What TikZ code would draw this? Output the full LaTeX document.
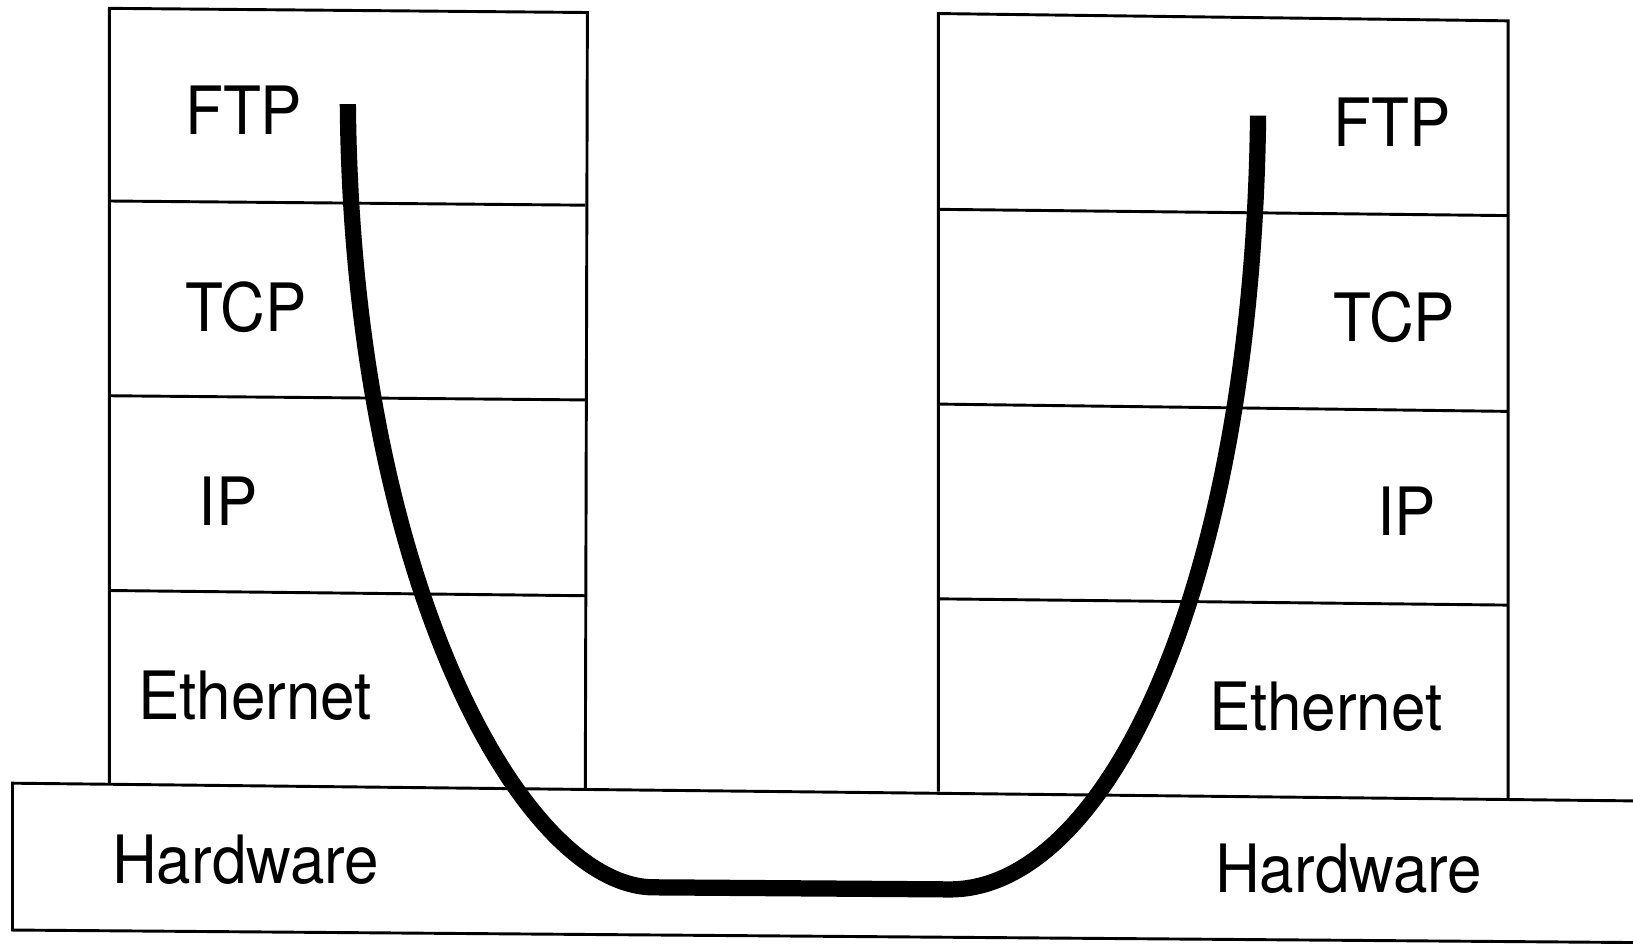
\documentclass[tikz,border=0pt]{standalone}
\usepackage{fontspec}
\setmainfont[FakeStretch=0.93]{TeX Gyre Heros}
\begin{document}
\begin{tikzpicture}[x=0.5pt,y=-0.5pt,
  rule/.style={line width=1.4pt, line join=miter},
  lbl/.style={font=\fontsize{32}{36}\selectfont, anchor=base, inner sep=0pt},
  route/.style={line width=7.8pt, line cap=butt, line join=round}]
\useasboundingbox (0,0) rectangle (1568,907);
% left stack
\draw[rule] (105,752) -- (105,8) -- (564,12) -- (562,757);
\draw[rule] (106,193) -- (562,197);
\draw[rule] (106,380) -- (562,384);
\draw[rule] (106,567) -- (562,572);
% right stack
\draw[rule] (901,760) -- (901,13) -- (1448,20) -- (1448,767);
\draw[rule] (902,201) -- (1448,207);
\draw[rule] (902,388) -- (1448,395);
\draw[rule] (902,575) -- (1448,581);
% hardware slab
\draw[rule] (1568,769) -- (12,752) -- (12,893) -- (1568,905);
% labels left
\node[lbl] (lftp) at (234,129) {FTP};
\node[lbl] (ltcp) at (236,318) {TCP};
\node[lbl] (lip)  at (219,505) {IP};
\node[lbl] (leth) at (245,691) {Ethernet};
\node[lbl] (lhw)  at (236,848) {Hardware};
% labels right
\node[lbl] (rftp) at (1337,141) {FTP};
\node[lbl] (rtcp) at (1339,328) {TCP};
\node[lbl] (rip)  at (1351,514) {IP};
\node[lbl] (reth) at (1273,701) {Ethernet};
\node[lbl] (rhw)  at (1295,857) {Hardware};
% route
\coordinate (s) at (334,100);
\coordinate (b1) at (628,852);
\coordinate (b2) at (912,854);
\coordinate (e) at (1208,111);
\draw[route] (s) .. controls (338,560) and (503,852) .. (b1)
  -- (b2) .. controls (1062,854) and (1203,565) .. (e);
\end{tikzpicture}
\end{document}
